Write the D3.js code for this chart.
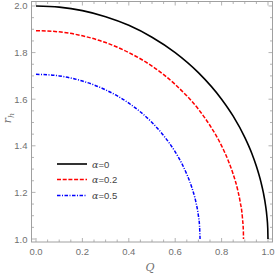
<!DOCTYPE html>
<html><head><meta charset="utf-8">
<script src="https://cdn.jsdelivr.net/npm/d3@7"></script>
<style>body{margin:0;background:#fff}svg{display:block}</style>
</head><body>
<script>
const Q0 = [0,0.1,0.2,0.3,0.4,0.5,0.6,0.7,0.8,0.85,0.9,0.93,0.95,0.97,0.98,0.99,0.995,0.999,1.0];
const R0 = [2.000,1.995,1.980,1.954,1.917,1.866,1.800,1.714,1.600,1.527,1.436,1.368,1.312,1.243,1.199,1.141,1.100,1.045,1.000];
const Q1 = [0,0.1,0.2,0.3,0.4,0.5,0.6,0.7,0.75,0.8,0.83,0.85,0.87,0.88,0.89,0.894,0.8944];
const R1 = [1.894,1.889,1.872,1.843,1.800,1.742,1.663,1.557,1.487,1.400,1.333,1.278,1.208,1.160,1.089,1.028,1.000];
const Q2 = [0,0.1,0.2,0.3,0.4,0.5,0.55,0.6,0.63,0.65,0.67,0.69,0.70,0.705,0.7071];
const R2 = [1.707,1.700,1.678,1.640,1.583,1.500,1.444,1.374,1.321,1.278,1.226,1.155,1.100,1.055,1.000];
const labels = ["α=0","α=0.2","α=0.5"];
const xTicks = [0,0.2,0.4,0.6,0.8,1.0];
const yTicks = [1.0,1.2,1.4,1.6,1.8,2.0];

const W=275,H=273;
const L=31.5,R=272.5,T=1.5,B=242;
const x=d3.scaleLinear().domain([-0.01944,1.01944]).range([L,R]);
const y=d3.scaleLinear().domain([0.98715,2.01927]).range([B,T]);
const svg=d3.select("body").append("svg").attr("width",W).attr("height",H);
const axisCol="#a0a0a0", txtCol="#707070";

// frame
svg.append("rect").attr("x",L).attr("y",T).attr("width",R-L).attr("height",B-T)
  .attr("fill","none").attr("stroke",axisCol).attr("stroke-width",1);

const minorX=d3.range(0,1.0001,0.05), minorY=d3.range(1.0,2.0001,0.05);
function isMajor(v){return Math.abs(v*5-Math.round(v*5))<1e-6;}
const g=svg.append("g").attr("stroke",axisCol).attr("stroke-width",0.8);
minorX.forEach(v=>{const len=isMajor(v)?4:2.5;const px=x(v);
  g.append("line").attr("x1",px).attr("x2",px).attr("y1",B).attr("y2",B-len);
  g.append("line").attr("x1",px).attr("x2",px).attr("y1",T).attr("y2",T+len);});
minorY.forEach(v=>{const len=isMajor(v)?4:2.5;const py=y(v);
  g.append("line").attr("y1",py).attr("y2",py).attr("x1",L).attr("x2",L+len);
  g.append("line").attr("y1",py).attr("y2",py).attr("x1",R).attr("x2",R-len);});

svg.selectAll(".xt").data(xTicks).enter().append("text")
  .attr("x",d=>x(d)).attr("y",B+12.5).attr("text-anchor","middle")
  .attr("font-family","Liberation Sans").attr("font-size",9.5).attr("fill",txtCol)
  .text(d=>d.toFixed(1));
svg.selectAll(".yt").data(yTicks).enter().append("text")
  .attr("x",L-4).attr("y",d=>y(d)+3.5).attr("text-anchor","end")
  .attr("font-family","Liberation Sans").attr("font-size",9.5).attr("fill",txtCol)
  .text(d=>d.toFixed(1));

// axis labels
svg.append("text").attr("x",150).attr("y",271).attr("text-anchor","middle")
  .attr("font-family","DejaVu Serif").attr("font-style","italic").attr("font-size",11).attr("fill",txtCol).text("Q");
const yl=svg.append("text").attr("transform","translate(11,118) rotate(-90)").attr("text-anchor","middle")
  .attr("font-family","DejaVu Serif").attr("font-style","italic").attr("font-size",11).attr("fill",txtCol);
yl.append("tspan").text("r");
yl.append("tspan").attr("font-size",8).attr("dy",2.5).text("h");

const series=[
  {q:Q0,r:R0,color:"#000000",dash:null,w:1.6},
  {q:Q1,r:R1,color:"#ff0000",dash:"4,1.7",w:1.5},
  {q:Q2,r:R2,color:"#0000ff",dash:"3.5,1.5,1,1.5",w:1.5}
];
const line=d3.line().x(d=>x(d[0])).y(d=>y(d[1])).curve(d3.curveMonotoneX);
series.forEach(s=>{
  svg.append("path").datum(s.q.map((q,i)=>[q,s.r[i]]))
    .attr("d",line).attr("fill","none").attr("stroke",s.color)
    .attr("stroke-width",s.w).attr("stroke-dasharray",s.dash);
});

// legend
const ly=[164,179.5,195.5];
series.forEach((s,i)=>{
  svg.append("line").attr("x1",57).attr("x2",87).attr("y1",ly[i]).attr("y2",ly[i])
    .attr("stroke",s.color).attr("stroke-width",s.w).attr("stroke-dasharray",s.dash);
  const t=svg.append("text").attr("x",92).attr("y",ly[i]+3.5)
    .attr("font-family","Liberation Sans").attr("font-size",9.5).attr("fill","#444");
  t.append("tspan").attr("font-family","DejaVu Serif").attr("font-style","italic").text("α");
  t.append("tspan").text(labels[i].slice(1));
});
</script>
</body></html>
